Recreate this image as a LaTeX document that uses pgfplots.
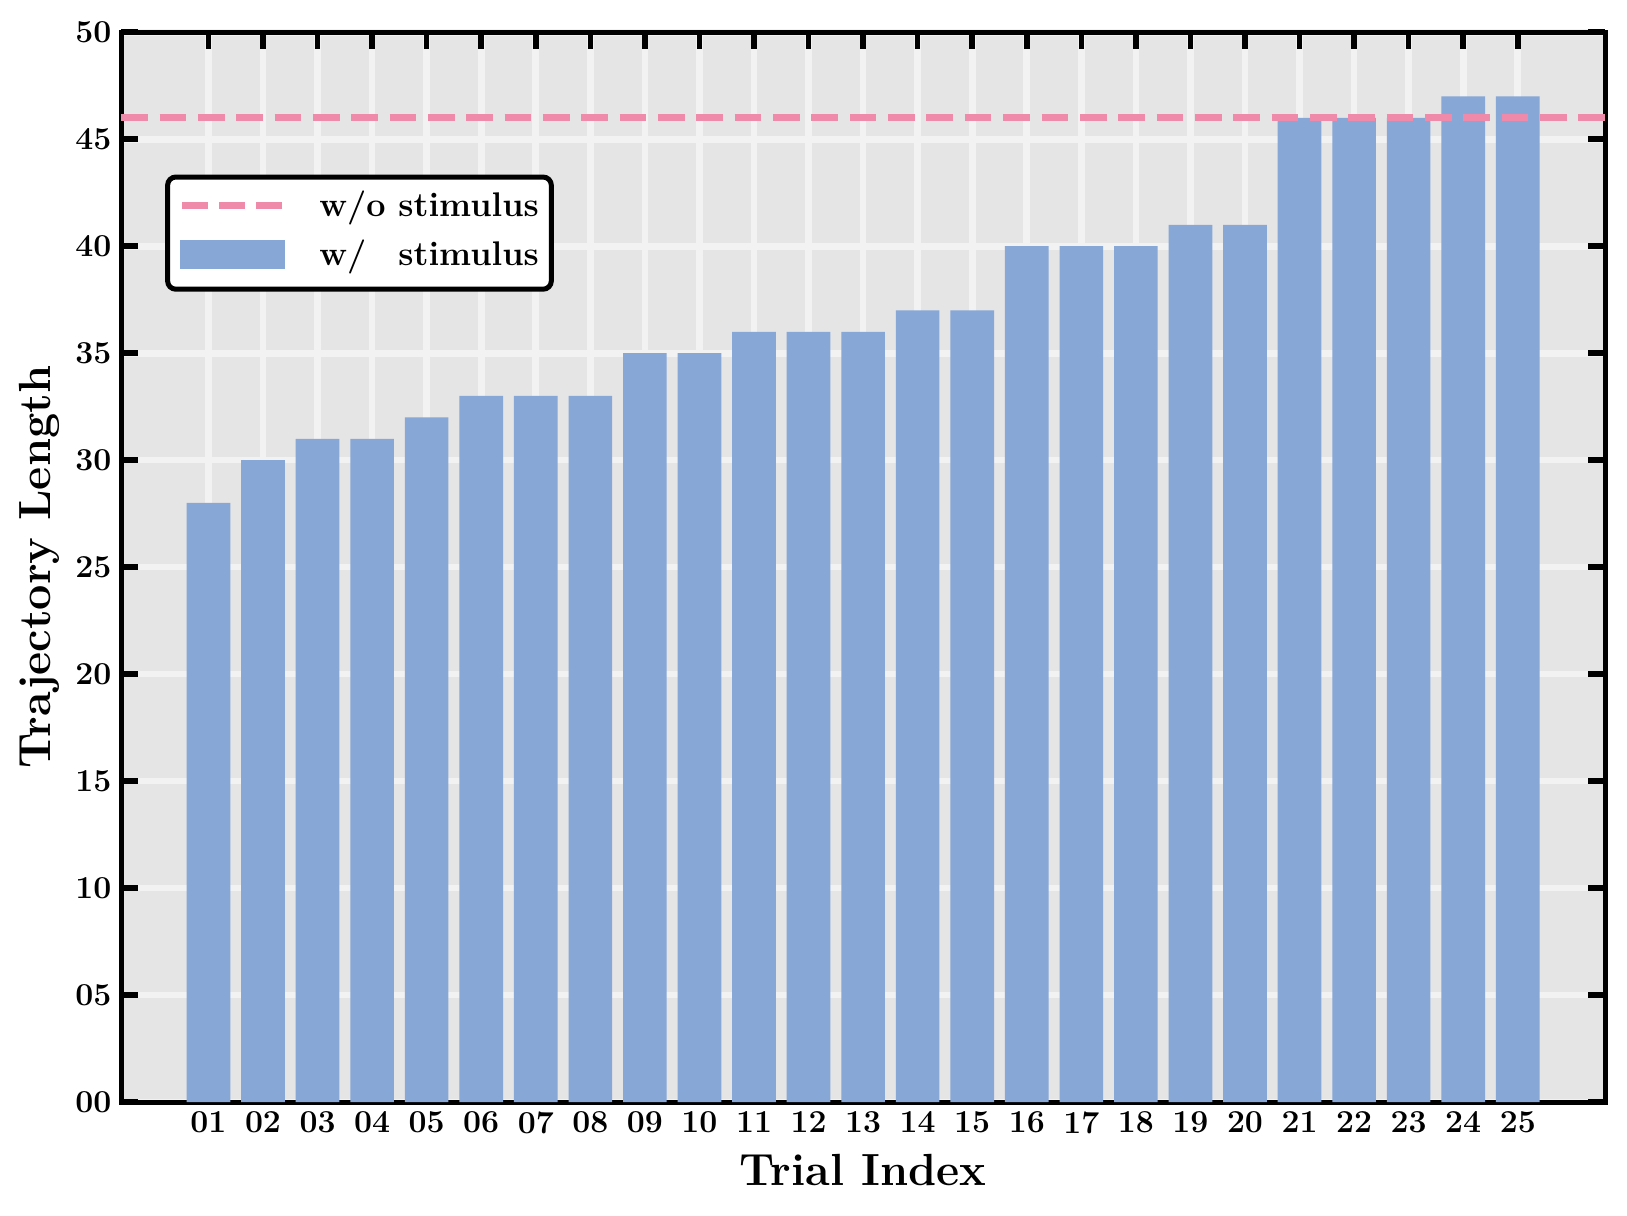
\documentclass[border=0pt]{standalone}
\usepackage{fontspec}
\usepackage{pgfplots}
\pgfplotsset{compat=1.18}
\definecolor{barblue}{HTML}{87A7D6}
\definecolor{pinkline}{HTML}{EF8AAA}
\definecolor{bggray}{HTML}{E5E5E5}
\definecolor{gridc}{HTML}{F2F2F2}
\pgfplotsset{layers/mylayers/.define layer set={axis background,axis grid,pre main,main,axis ticks,axis lines,axis tick labels,axis descriptions,axis foreground}{}}
\begin{document}
\begin{tikzpicture}
\begin{axis}[
  set layers=mylayers,
  scale only axis, width=534pt, height=385pt,
  xmin=-0.6, xmax=26.6, ymin=0, ymax=50,
  xtick={1,...,25},
  xticklabels={01,02,03,04,05,06,07,08,09,10,11,12,13,14,15,16,17,18,19,20,21,22,23,24,25},
  ytick={0,5,...,50},
  yticklabels={00,05,10,15,20,25,30,35,40,45,50},
  xticklabel pos=lower, yticklabel pos=left,
  xtick pos=both, ytick pos=both,
  tick align=inside,
  major tick length=6pt,
  tick style={line width=2pt, black},
  axis line style={line width=1.8pt, black},
  axis background/.style={fill=bggray},
  grid=major,
  major grid style={line width=2.4pt, gridc},
  ticklabel style={font=\fontsize{11.5}{13}\selectfont\bfseries},
  xlabel={Trial Index}, ylabel={Trajectory Length},
  label style={font=\fontsize{16.2}{19}\selectfont\bfseries},
  xlabel style={at={(axis description cs:0.5,-0.0636)}, anchor=center},
  ylabel style={at={(axis description cs:-0.0552,0.5)}, anchor=center},
  legend style={at={(0.0296,0.867)}, anchor=north west, draw=black, line width=1.8pt,
    rounded corners=3pt, fill=white, font=\fontsize{12.3}{14}\selectfont\bfseries,
    inner xsep=2.5pt, inner ysep=3.0pt, row sep=2.8pt},
  legend cell align=left,
]
\addplot[ybar, bar width=0.8, bar shift=0pt, fill=barblue, draw=none, forget plot] coordinates {
(1,28) (2,30) (3,31) (4,31) (5,32) (6,33) (7,33) (8,33) (9,35) (10,35)
(11,36) (12,36) (13,36) (14,37) (15,37) (16,40) (17,40) (18,40) (19,41) (20,41)
(21,46) (22,46) (23,46) (24,47) (25,47)};
\addplot[pinkline, line width=2.6pt, dash pattern=on 9.6pt off 4.2pt,
  legend image code/.code={\draw[pinkline, line width=2.6pt, dash pattern=on 9.3pt off 4pt, sharp corners] (0pt,0pt) -- (36pt,0pt); \path (-1.5pt,0pt) (46pt,0pt);}]
  coordinates {(-0.6,46) (26.6,46)};
\addlegendentry{w/o stimulus}
\addlegendimage{legend image code/.code={\fill[barblue, sharp corners] (0pt,-4.2pt) rectangle (36pt,4.2pt); \path (-1.5pt,0pt) (46pt,0pt) (0pt,-8.6pt);}}
\addlegendentry{w/\phantom{o} stimulus}
\end{axis}
\path ([shift={(-43.6pt,-40.7pt)}]current axis.south west) rectangle ([shift={(7.9pt,11.6pt)}]current axis.north east);
\end{tikzpicture}
\end{document}
